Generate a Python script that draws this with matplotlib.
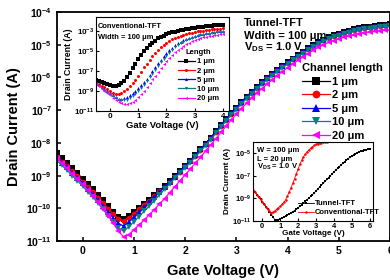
import numpy as np
import matplotlib
matplotlib.use("Agg")
import matplotlib.pyplot as plt
from matplotlib.ticker import LogFormatterSciNotation, NullLocator

plt.rcParams['font.family'] = ['Liberation Sans', 'DejaVu Sans']
plt.rcParams['font.weight'] = 'bold'
plt.rcParams['mathtext.fontset'] = 'custom'
plt.rcParams['mathtext.rm'] = 'Liberation Sans:bold'
plt.rcParams['mathtext.bf'] = 'Liberation Sans:bold'
plt.rcParams['mathtext.default'] = 'bf'

# ---- main chart: tunnel-TFT, log10 of drain current (A), Vg = -0.5 ... 6.0 V
vg_main = np.round(np.arange(-0.5, 6.01, 0.1), 1)
tft_1um = [-8.32, -8.47, -8.62, -8.77, -8.93, -9.09, -9.25, -9.41, -9.58, -9.75,
           -9.93, -10.11, -10.27, -10.34, -10.24, -10.12, -9.99, -9.86, -9.73, -9.60,
           -9.46, -9.32, -9.17, -9.02, -8.86, -8.70, -8.54, -8.37, -8.20, -8.02,
           -7.84, -7.65, -7.46, -7.27, -7.09, -6.92, -6.75, -6.59, -6.44, -6.29,
           -6.15, -6.01, -5.88, -5.76, -5.64, -5.53, -5.42, -5.31, -5.21, -5.11,
           -5.01, -4.92, -4.84, -4.77, -4.71, -4.66, -4.61, -4.57, -4.53, -4.50,
           -4.47, -4.45, -4.43, -4.41, -4.39, -4.38]
tft_2um = [-8.42, -8.57, -8.72, -8.87, -9.02, -9.18, -9.34, -9.50, -9.67, -9.84,
           -10.01, -10.18, -10.32, -10.38, -10.29, -10.16, -10.03, -9.89, -9.76, -9.62,
           -9.48, -9.34, -9.19, -9.04, -8.88, -8.72, -8.56, -8.39, -8.22, -8.04,
           -7.86, -7.67, -7.48, -7.29, -7.11, -6.94, -6.77, -6.61, -6.46, -6.31,
           -6.17, -6.03, -5.90, -5.78, -5.66, -5.55, -5.44, -5.33, -5.23, -5.13,
           -5.03, -4.94, -4.86, -4.79, -4.73, -4.68, -4.63, -4.59, -4.55, -4.52,
           -4.49, -4.47, -4.45, -4.43, -4.41, -4.40]
tft_5um = [-8.45, -8.60, -8.75, -8.91, -9.07, -9.23, -9.40, -9.57, -9.74, -9.92,
           -10.10, -10.29, -10.46, -10.54, -10.42, -10.27, -10.12, -9.97, -9.82, -9.66,
           -9.50, -9.35, -9.19, -9.03, -8.87, -8.70, -8.54, -8.37, -8.20, -8.02,
           -7.84, -7.65, -7.46, -7.27, -7.09, -6.92, -6.75, -6.59, -6.44, -6.29,
           -6.15, -6.01, -5.88, -5.76, -5.64, -5.53, -5.42, -5.31, -5.21, -5.11,
           -5.01, -4.92, -4.84, -4.77, -4.71, -4.66, -4.61, -4.57, -4.53, -4.50,
           -4.47, -4.45, -4.43, -4.41, -4.39, -4.38]
tft_10um = [-8.54, -8.69, -8.84, -9.00, -9.16, -9.32, -9.49, -9.66, -9.84, -10.03,
            -10.23, -10.43, -10.61, -10.69, -10.57, -10.41, -10.25, -10.09, -9.93, -9.76,
            -9.59, -9.42, -9.25, -9.08, -8.92, -8.76, -8.60, -8.43, -8.26, -8.08,
            -7.90, -7.71, -7.52, -7.33, -7.15, -6.98, -6.81, -6.65, -6.50, -6.35,
            -6.21, -6.07, -5.94, -5.82, -5.70, -5.59, -5.48, -5.37, -5.27, -5.17,
            -5.07, -4.98, -4.90, -4.83, -4.77, -4.72, -4.67, -4.63, -4.59, -4.56,
            -4.53, -4.51, -4.49, -4.47, -4.45, -4.44]
tft_20um = [-8.47, -8.62, -8.78, -8.94, -9.10, -9.27, -9.44, -9.62, -9.81, -10.01,
            -10.22, -10.45, -10.70, -10.87, -10.80, -10.66, -10.51, -10.36, -10.20, -10.04,
            -9.87, -9.70, -9.52, -9.34, -9.16, -8.98, -8.80, -8.62, -8.44, -8.25,
            -8.06, -7.87, -7.68, -7.49, -7.30, -7.12, -6.95, -6.79, -6.63, -6.48,
            -6.34, -6.20, -6.07, -5.94, -5.82, -5.70, -5.59, -5.48, -5.37, -5.27,
            -5.17, -5.08, -5.00, -4.93, -4.87, -4.82, -4.77, -4.73, -4.69, -4.66,
            -4.63, -4.61, -4.59, -4.57, -4.55, -4.54]

# ---- inset 1: conventional-TFT, Vg = -0.5 ... 4.0 V
vg_conv = np.round(np.arange(-0.5, 4.01, 0.1), 1)
conv_1um = [-7.85, -7.98, -8.10, -8.22, -8.34, -8.45, -8.52, -8.52, -8.42, -8.22,
            -7.95, -7.60, -7.18, -6.72, -6.25, -5.80, -5.38, -5.00, -4.68, -4.40,
            -4.16, -3.94, -3.72, -3.56, -3.43, -3.31, -3.20, -3.11, -3.03, -2.96,
            -2.89, -2.83, -2.78, -2.73, -2.68, -2.64, -2.60, -2.56, -2.53, -2.50,
            -2.47, -2.44, -2.41, -2.39, -2.37, -2.35]
conv_2um = [-8.15, -8.30, -8.47, -8.65, -8.85, -9.05, -9.22, -9.30, -9.28, -9.18,
            -9.00, -8.76, -8.46, -8.20, -7.85, -7.46, -7.05, -6.64, -6.25, -5.88,
            -5.53, -5.20, -4.90, -4.62, -4.37, -4.15, -3.96, -3.80, -3.66, -3.54,
            -3.43, -3.34, -3.26, -3.19, -3.13, -3.07, -3.02, -2.97, -2.93, -2.89,
            -2.85, -2.82, -2.79, -2.76, -2.73, -2.70]
conv_5um = [-8.25, -8.42, -8.60, -8.80, -9.01, -9.23, -9.45, -9.64, -9.77, -9.80,
            -9.74, -9.62, -9.44, -9.25, -9.00, -8.70, -8.42, -8.11, -7.77, -7.40,
            -7.02, -6.63, -6.24, -5.87, -5.52, -5.20, -4.91, -4.65, -4.42, -4.22,
            -4.04, -3.89, -3.76, -3.64, -3.54, -3.45, -3.37, -3.30, -3.24, -3.18,
            -3.13, -3.08, -3.04, -3.00, -2.96, -2.93]
conv_10um = [-8.30, -8.48, -8.67, -8.87, -9.08, -9.30, -9.52, -9.72, -9.87, -9.95,
             -9.95, -9.87, -9.72, -9.52, -9.28, -9.00, -8.69, -8.36, -8.01, -7.64,
             -7.26, -6.88, -6.50, -6.13, -5.78, -5.45, -5.15, -4.88, -4.63, -4.41,
             -4.22, -4.05, -3.91, -3.78, -3.67, -3.57, -3.49, -3.41, -3.35, -3.29,
             -3.24, -3.19, -3.15, -3.11, -3.08, -3.05]
conv_20um = [-8.35, -8.55, -8.76, -8.98, -9.21, -9.44, -9.68, -9.91, -10.10, -10.23,
             -10.30, -10.30, -10.22, -10.07, -9.86, -9.60, -9.30, -8.97, -8.61, -8.23,
             -7.84, -7.45, -7.06, -6.68, -6.32, -5.98, -5.66, -5.37, -5.10, -4.86,
             -4.65, -4.46, -4.29, -4.14, -4.01, -3.89, -3.79, -3.70, -3.62, -3.55,
             -3.49, -3.43, -3.38, -3.33, -3.29, -3.25]

# ---- inset 2: W = 100 um, L = 20 um
vg_cmp = np.round(np.arange(-0.5, 6.01, 0.1), 1)
cmp_tunnel = [-8.28, -8.48, -8.68, -8.89, -9.10, -9.31, -9.53, -9.75, -9.98, -10.21,
              -10.45, -10.69, -10.90, -10.98, -10.92, -10.84, -10.76, -10.68, -10.59, -10.50,
              -10.41, -10.31, -10.21, -10.10, -9.98, -9.85, -9.72, -9.58, -9.44, -9.29,
              -9.14, -8.99, -8.84, -8.68, -8.52, -8.35, -8.18, -8.01, -7.84, -7.67,
              -7.50, -7.33, -7.16, -6.99, -6.83, -6.67, -6.51, -6.35, -6.19, -6.03,
              -5.88, -5.74, -5.60, -5.47, -5.35, -5.24, -5.14, -5.05, -4.97, -4.90,
              -4.84, -4.78, -4.72, -4.67, -4.62, -4.58]
vg_cmp_conv = np.round(np.arange(-0.5, 4.01, 0.1), 1)
cmp_conv = [-8.28, -8.48, -8.68, -8.89, -9.10, -9.31, -9.53, -9.75, -9.97, -10.18,
            -10.30, -10.25, -10.12, -9.98, -9.84, -9.70, -9.55, -9.38, -9.15, -8.82,
            -8.45, -8.07, -7.68, -7.25, -6.82, -6.38, -5.98, -5.62, -5.32, -5.07,
            -4.87, -4.70, -4.55, -4.42, -4.30, -4.20, -4.15, -4.10, -4.06, -4.03,
            -4.00, -3.97, -3.94, -3.91, -3.89, -3.87]

lengths = ['1 μm', '2 μm', '5 μm', '10 μm', '20 μm']
colors = ['black', '#ff0000', '#0000ff', '#008080', '#ff00ff']
markers = ['s', 'o', '^', 'v', '<']

W, H = 390.0, 280.0
fig = plt.figure(figsize=(3.9, 2.8), dpi=100)
sci = LogFormatterSciNotation()


def px(x, y):
    # pixel position (from top-left) to figure fraction
    return x / W, 1 - y / H


# main axes
ax = fig.add_axes([0.146, 0.139, 0.854, 0.818])
for ys, c, m, lab in zip([tft_1um, tft_2um, tft_5um, tft_10um, tft_20um], colors, markers, lengths):
    ax.plot(vg_main, 10 ** np.array(ys), color=c, marker=m, ms=4.0, mew=0, lw=0.9, label=lab)
ax.set_yscale('log')
ax.set_xlim(-0.5, 6.0)
ax.set_ylim(1e-11, 1e-4)
ax.set_xticks(range(0, 7))
ax.set_yticks([10.0 ** k for k in range(-11, -3)])
ax.yaxis.set_major_formatter(sci)
ax.yaxis.set_minor_locator(NullLocator())
ax.tick_params(direction='in', labelsize=7.5, length=3, width=1.1)
for s in ax.spines.values():
    s.set_linewidth(1.3)
ax.set_xlabel('Gate Voltage (V)', fontsize=10.5, fontweight='bold', labelpad=6)
ax.set_ylabel('Drain Current (A)', fontsize=10.5, fontweight='bold', labelpad=4)
for txt, yb in [('Tunnel-TFT', 25.7), ('Wdith = 100 μm', 39.0), ('V$_{DS}$ = 1.0 V', 50.7)]:
    fig.text(*px(244, yb), txt, fontsize=8, fontweight='bold', va='baseline', ha='left')
ax.legend(title='Channel length', loc='upper left', bbox_to_anchor=px(302, 63),
          bbox_transform=fig.transFigure, frameon=False, fontsize=8, title_fontsize=8,
          handlelength=2.5, handletextpad=0.2, labelspacing=0.32, borderpad=0, borderaxespad=0,
          numpoints=1, alignment='left', markerscale=1.4)

# inset 1: conventional TFT
ax1 = fig.add_axes([0.246, 0.604, 0.340, 0.336])
for ys, c, m, lab in zip([conv_1um, conv_2um, conv_5um, conv_10um, conv_20um], colors, markers, lengths):
    ax1.plot(vg_conv, 10 ** np.array(ys), color=c, marker=m, ms=2.2, mew=0, lw=0, label=lab)
ax1.set_yscale('log')
ax1.set_xlim(-0.5, 4.2)
ax1.set_ylim(1e-11, 10 ** -1.55)
ax1.set_xticks(range(0, 5))
ax1.set_yticks([1e-11, 1e-9, 1e-7, 1e-5, 1e-3])
ax1.yaxis.set_major_formatter(sci)
ax1.yaxis.set_minor_locator(NullLocator())
ax1.tick_params(direction='in', labelsize=5.8, length=2, width=0.8, pad=1.5)
ax1.set_xlabel('Gate Voltage (V)', fontsize=6.8, fontweight='bold', labelpad=1)
ax1.set_ylabel('Drain Current (A)', fontsize=6.3, fontweight='bold', labelpad=0.5)
for txt, yb in [('Conventional-TFT', 27.6), ('Width = 100 μm', 39.3)]:
    fig.text(*px(98, yb), txt, fontsize=5.4, fontweight='bold', va='baseline', ha='left')
leg1 = ax1.legend(title='Length', loc='upper left', bbox_to_anchor=px(178, 49),
                  bbox_transform=fig.transFigure, frameon=False, fontsize=5.5, title_fontsize=5.5,
                  handlelength=2.2, handletextpad=0.25, labelspacing=0.25, borderpad=0,
                  borderaxespad=0, numpoints=1)
for h in leg1.legend_handles:
    h.set_linewidth(0.9)

# inset 2: tunnel vs conventional
ax2 = fig.add_axes([0.6496, 0.2118, 0.3077, 0.281])
ax2.plot(vg_cmp, 10 ** np.array(cmp_tunnel), color='black', marker='s', ms=1.8, mew=0, lw=0.6,
         label='Tunnel-TFT')
ax2.plot(vg_cmp_conv, 10 ** np.array(cmp_conv), color='#ff0000', marker='o', ms=1.8, mew=0, lw=0.6,
         label='Conventional-TFT')
ax2.set_yscale('log')
ax2.set_xlim(-0.5, 6.2)
ax2.set_ylim(1e-11, 1e-4)
ax2.set_xticks(range(0, 7))
ax2.set_yticks([1e-11, 1e-9, 1e-7, 1e-5])
ax2.yaxis.set_major_formatter(sci)
ax2.yaxis.set_minor_locator(NullLocator())
ax2.tick_params(direction='in', labelsize=5.4, length=2, width=0.8, pad=1.5)
ax2.set_xlabel('Gate Voltage (V)', fontsize=5.9, fontweight='bold', labelpad=0)
ax2.set_ylabel('Drain Current (A)', fontsize=5.9, fontweight='bold', labelpad=0.5)
for txt, yb in [('W = 100 μm', 151.7), ('L = 20 μm', 160.7), ('V$_{DS}$ = 1.0 V', 169.0)]:
    fig.text(*px(257, yb), txt, fontsize=5.5, fontweight='bold', va='baseline', ha='left')
ax2.legend(loc='upper left', bbox_to_anchor=px(298, 200), bbox_transform=fig.transFigure,
           frameon=False, fontsize=5.5, handlelength=2.1, handletextpad=0.15, labelspacing=0.2,
           borderpad=0, borderaxespad=0, numpoints=1)

fig.savefig('out.png', dpi=100)
